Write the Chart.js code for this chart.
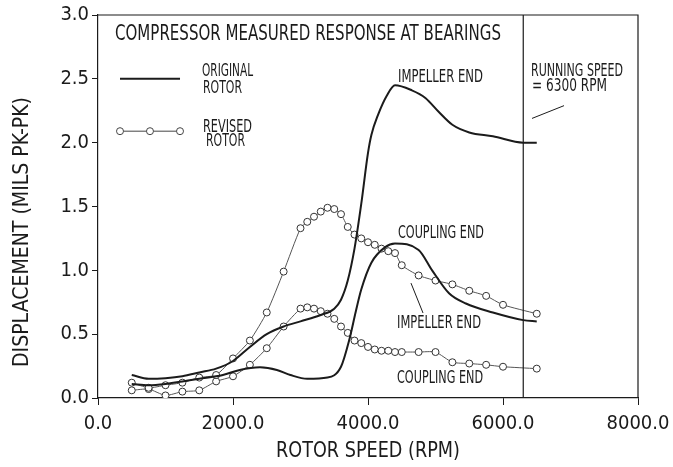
<!DOCTYPE html>
<html>
<head>
<meta charset="utf-8">
<script src="https://cdn.jsdelivr.net/npm/chart.js@4.4.1/dist/chart.umd.min.js"></script>
<style>
  html, body { margin: 0; padding: 0; background: #fff; }
  #wrap { width: 673px; height: 467px; }
</style>
</head>
<body>
<div id="wrap"><canvas id="chart" width="673" height="467"></canvas></div>
<script>
// original rotor (solid lines)
const origImpRpm = [500, 750, 1000, 1250, 1500, 1750, 2000, 2250, 2500, 2750, 3000, 3300, 3500, 3600, 3700, 3800, 3900, 4000, 4050, 4150, 4280, 4400, 4650, 4850, 5050, 5250, 5500, 5850, 6300, 6500];
const origImpVal = [0.18, 0.15, 0.155, 0.17, 0.20, 0.23, 0.29, 0.40, 0.50, 0.56, 0.60, 0.65, 0.70, 0.77, 0.92, 1.17, 1.52, 1.92, 2.06, 2.22, 2.37, 2.45, 2.41, 2.35, 2.24, 2.14, 2.08, 2.05, 2.00, 2.00];
const origCplRpm = [500, 750, 1000, 1250, 1500, 1850, 2100, 2400, 2650, 2850, 3100, 3400, 3600, 3720, 3820, 3900, 4050, 4250, 4400, 4750, 4950, 5200, 5450, 5850, 6300, 6500];
const origCplVal = [0.11, 0.10, 0.11, 0.13, 0.15, 0.18, 0.22, 0.24, 0.22, 0.18, 0.15, 0.16, 0.245, 0.45, 0.68, 0.85, 1.06, 1.18, 1.21, 1.16, 1.00, 0.82, 0.74, 0.67, 0.61, 0.60];

// revised rotor (circle markers)
const revRpm = [500, 750, 1000, 1250, 1500, 1750, 2000, 2250, 2500, 2750, 3000, 3100, 3200, 3300, 3400, 3500, 3600, 3700, 3800, 3900, 4000, 4100, 4200, 4300, 4400, 4500, 4750, 5000, 5250, 5500, 5750, 6000, 6500];
const revImpVal = [0.12, 0.08, 0.10, 0.12, 0.16, 0.18, 0.31, 0.45, 0.67, 0.99, 1.33, 1.38, 1.42, 1.46, 1.49, 1.48, 1.44, 1.34, 1.28, 1.25, 1.22, 1.20, 1.17, 1.15, 1.135, 1.04, 0.96, 0.92, 0.89, 0.84, 0.80, 0.73, 0.66];
const revCplVal = [0.06, 0.07, 0.02, 0.05, 0.06, 0.13, 0.17, 0.26, 0.39, 0.56, 0.70, 0.71, 0.70, 0.68, 0.66, 0.62, 0.56, 0.51, 0.45, 0.43, 0.40, 0.38, 0.37, 0.37, 0.36, 0.36, 0.36, 0.36, 0.28, 0.27, 0.26, 0.245, 0.23];

const runningSpeed = 6300;
const xTicks = [0, 2000, 4000, 6000, 8000];
const yTicks = [0, 0.5, 1.0, 1.5, 2.0, 2.5, 3.0];

const FONT = "'Liberation Sans Narrow', 'DejaVu Sans Condensed', 'Liberation Sans', sans-serif";
const INK = '#1b1b1b';

function pts(xs, ys) {
  return xs.map((x, i) => ({ x: x, y: ys[i] }));
}

// frame, running speed line, notes, legend and axis titles
const decor = {
  id: 'decor',
  afterDraw(chart) {
    const ctx = chart.ctx;
    const a = chart.chartArea;
    const sx = chart.scales.x, sy = chart.scales.y;
    const px = v => sx.getPixelForValue(v);
    const py = v => sy.getPixelForValue(v);

    ctx.save();
    ctx.strokeStyle = INK;
    ctx.lineWidth = 1.2;
    ctx.beginPath();
    ctx.moveTo(a.left, a.top);
    ctx.lineTo(a.right, a.top);
    ctx.lineTo(a.right, a.bottom);
    ctx.stroke();

    // running speed
    ctx.beginPath();
    ctx.moveTo(px(runningSpeed), a.top);
    ctx.lineTo(px(runningSpeed), a.bottom);
    ctx.stroke();

    function text(s, x, y, size, w) {
      ctx.font = size + 'px ' + FONT;
      ctx.fillStyle = INK;
      ctx.textBaseline = 'middle';
      ctx.textAlign = 'left';
      ctx.fillText(s, x, y, w);
    }

    text('COMPRESSOR MEASURED RESPONSE AT BEARINGS', px(252), py(2.85), 21, 386);
    text('IMPELLER END', px(4444), py(2.51), 17, 85);
    text('RUNNING SPEED', px(6415), py(2.56), 17, 92);
    text('= 6300 RPM', px(6430), py(2.44), 17, 75);
    text('COUPLING END', px(4444), py(1.29), 17, 86);
    text('IMPELLER END', px(4430), py(0.58), 17, 84);
    text('COUPLING END', px(4430), py(0.15), 17, 86);

    ctx.lineWidth = 1;
    ctx.beginPath();
    ctx.moveTo(px(6430), py(2.19));
    ctx.lineTo(px(6904), py(2.29));
    ctx.moveTo(px(4637), py(0.90));
    ctx.lineTo(px(4815), py(0.666));
    ctx.stroke();

    // legend
    ctx.lineWidth = 2;
    ctx.beginPath();
    ctx.moveTo(px(326), py(2.50));
    ctx.lineTo(px(1215), py(2.50));
    ctx.stroke();
    text('ORIGINAL', px(1541), py(2.56), 17, 51);
    text('ROTOR', px(1556), py(2.42), 17, 39);

    ctx.lineWidth = 1;
    ctx.strokeStyle = '#444';
    ctx.beginPath();
    ctx.moveTo(px(326), py(2.09));
    ctx.lineTo(px(1215), py(2.09));
    ctx.stroke();
    [326, 770, 1215].forEach(r => {
      ctx.beginPath();
      ctx.arc(px(r), py(2.09), 3.5, 0, Math.PI * 2);
      ctx.fillStyle = '#fff';
      ctx.fill();
      ctx.stroke();
    });
    text('REVISED', px(1556), py(2.12), 17, 49);
    text('ROTOR', px(1600), py(2.01), 17, 39);

    // axis titles
    ctx.font = '22px ' + FONT;
    ctx.fillStyle = INK;
    ctx.textAlign = 'center';
    ctx.textBaseline = 'middle';
    ctx.fillText('ROTOR SPEED (RPM)', (a.left + a.right) / 2, 451, 184);
    ctx.translate(22, 232);
    ctx.rotate(-Math.PI / 2);
    ctx.fillText('DISPLACEMENT (MILS PK-PK)', 0, 0, 270);
    ctx.restore();
  }
};

const ctx = document.getElementById('chart').getContext('2d');

new Chart(ctx, {
  type: 'line',
  data: {
    datasets: [
      {
        label: 'Original rotor - impeller end',
        data: pts(origImpRpm, origImpVal),
        borderColor: INK,
        borderWidth: 2,
        pointRadius: 0,
        cubicInterpolationMode: 'monotone'
      },
      {
        label: 'Original rotor - coupling end',
        data: pts(origCplRpm, origCplVal),
        borderColor: INK,
        borderWidth: 2,
        pointRadius: 0,
        cubicInterpolationMode: 'monotone'
      },
      {
        label: 'Revised rotor - impeller end',
        data: pts(revRpm, revImpVal),
        borderColor: '#555',
        borderWidth: 1,
        pointRadius: 3.5,
        pointBorderWidth: 1,
        pointBorderColor: '#333',
        pointBackgroundColor: '#fff',
        tension: 0.2
      },
      {
        label: 'Revised rotor - coupling end',
        data: pts(revRpm, revCplVal),
        borderColor: '#555',
        borderWidth: 1,
        pointRadius: 3.5,
        pointBorderWidth: 1,
        pointBorderColor: '#333',
        pointBackgroundColor: '#fff',
        tension: 0.2
      }
    ]
  },
  options: {
    responsive: false,
    animation: false,
    devicePixelRatio: 1,
    layout: { padding: { top: 15, right: 35, left: 0, bottom: 0 } },
    plugins: {
      legend: { display: false },
      tooltip: { enabled: false }
    },
    scales: {
      x: {
        type: 'linear',
        min: 0,
        max: 8000,
        afterFit: s => { s.height = 69; s.paddingLeft = 0; s.paddingRight = 0; },
        afterBuildTicks: s => { s.ticks = xTicks.map(v => ({ value: v })); },
        ticks: {
          color: INK,
          font: { family: FONT, size: 20 },
          padding: 7,
          maxRotation: 0,
          callback: v => v.toFixed(1)
        },
        grid: { drawOnChartArea: false, color: INK, tickLength: 7 },
        border: { color: INK, width: 1.2 }
      },
      y: {
        min: 0,
        max: 3,
        afterFit: s => { s.width = 98; },
        afterBuildTicks: s => { s.ticks = yTicks.map(v => ({ value: v })); },
        ticks: {
          color: INK,
          font: { family: FONT, size: 20 },
          padding: 3,
          callback: v => v.toFixed(1)
        },
        grid: { drawOnChartArea: false, color: INK, tickLength: 6 },
        border: { color: INK, width: 1.2 }
      }
    }
  },
  plugins: [decor]
});
</script>
</body>
</html>
